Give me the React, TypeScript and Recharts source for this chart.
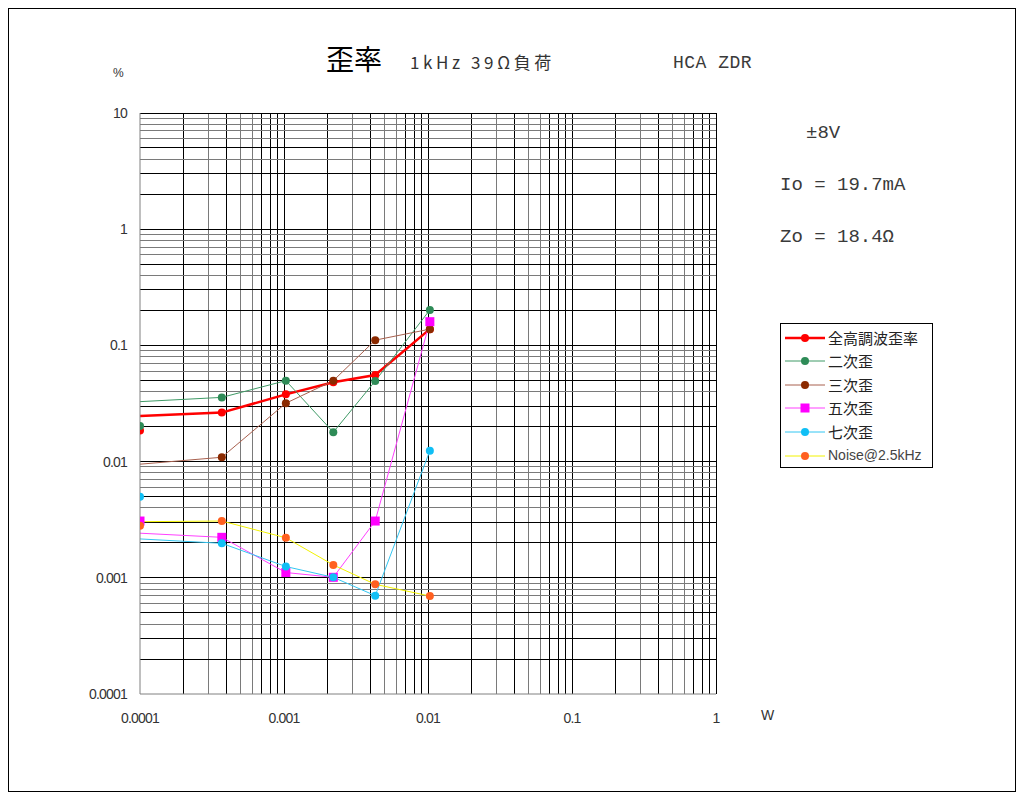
import React from "react";
import { ComposedChart, Line, Scatter, XAxis, YAxis, ReferenceLine } from "recharts";

// ---- data ----
const powerW = [0.0001, 0.00037, 0.00103, 0.0022, 0.0043, 0.0103];
const xTickValues = [0.0001, 0.001, 0.01, 0.1, 1];
const xTickLabels = ["0.0001", "0.001", "0.01", "0.1", "1"];
const yTickValues = [0.0001, 0.001, 0.01, 0.1, 1, 10];
const yTickLabels = ["0.0001", "0.001", "0.01", "0.1", "1", "10"];

const seriesNames = ["全高調波歪率", "二次歪", "三次歪", "五次歪", "七次歪", "Noise@2.5kHz"];
const thdLine = [0.0247, 0.0264, 0.0379, 0.0481, 0.0556, 0.138];
const h2Line = [0.0328, 0.0357, 0.0497, 0.0179, 0.0494, 0.202];
const h3Line = [0.0095, 0.0109, 0.0318, 0.0497, 0.111, 0.138];
const h5Line = [0.00242, 0.00223, 0.00111, 0.00101, 0.00308, 0.16];
const h7Line = [0.00216, 0.00198, 0.00125, 0.00101, 0.000702, 0.0124];
const noiseLine = [0.00304, 0.00308, 0.00221, 0.00129, 0.000879, 0.000697];
// isolated markers at 0.0001 W
const isoValues = [0.0185, 0.0202, null, 0.00308, 0.00499, 0.00281];

const lineColors = ["#ff0000", "#3f9a66", "#a8604e", "#ff40ff", "#33c6f2", "#f2f200"];
const markerColors = ["#ff0000", "#2e8b57", "#8b2a00", "#ff00ff", "#10bff5", "#ff6020"];
const lineWidths = [2.5, 1, 1, 1, 1, 1];
const markerShapes = ["circle", "circle", "circle", "square", "circle", "circle"];

const allLines = [thdLine, h2Line, h3Line, h5Line, h7Line, noiseLine];

const toData = (vals: number[]) => vals.map((v, i) => ({ x: powerW[i], y: v }));

const GRAY = "#7a7a7a";
const xDarkMinor = [2, 4, 7, 8, 9];
const yDarkMinor = [2, 3, 5];

const xGrid: { v: number; c: string }[] = [];
for (let d = 0; d < xTickValues.length - 1; d++) {
  for (let k = 1; k <= 9; k++) {
    const v = xTickValues[d] * k;
    if (d === 0 && k === 1) continue;
    xGrid.push({ v, c: k === 1 || xDarkMinor.includes(k) ? "#000" : GRAY });
  }
}
xGrid.push({ v: 1, c: "#000" });
const yGrid: { v: number; c: string }[] = [];
for (let d = 0; d < yTickValues.length - 1; d++) {
  for (let k = 1; k <= 9; k++) {
    const v = yTickValues[d] * k;
    if (d === 0 && k === 1) continue;
    yGrid.push({ v, c: k === 1 || yDarkMinor.includes(k) ? "#000" : GRAY });
  }
}
yGrid.push({ v: 10, c: "#000" });

function Marker({ cx, cy, shape, color }: any) {
  if (cx == null || cy == null) return null;
  if (shape === "square") {
    return <rect x={cx - 4.5} y={cy - 4.5} width={9} height={9} fill={color} />;
  }
  return <circle cx={cx} cy={cy} r={4} fill={color} />;
}

const makeDot = (si: number) => (props: any) => {
  const { cx, cy, index } = props;
  if (index === 0) return <g key={`d${si}-${index}`} />;
  return (
    <g key={`d${si}-${index}`}>
      <Marker cx={cx} cy={cy} shape={markerShapes[si]} color={markerColors[si]} />
    </g>
  );
};

function Txt({ x, y, children, style }: any) {
  return (
    <div
      style={{
        position: "absolute",
        left: x,
        top: y,
        transform: "translateY(-50%)",
        whiteSpace: "nowrap",
        lineHeight: 1,
        ...style,
      }}
    >
      {children}
    </div>
  );
}

function LegendBox() {
  const rowY = [14, 37, 61, 84, 108, 132];
  return (
    <div
      style={{
        position: "absolute",
        left: 772,
        top: 315,
        width: 153,
        height: 145,
        border: "1px solid #000",
        boxSizing: "border-box",
        background: "#fff",
      }}
    >
      {seriesNames.map((n, i) => (
        <React.Fragment key={n}>
          <svg
            style={{ position: "absolute", left: 4, top: rowY[i] - 8 }}
            width={40}
            height={16}
          >
            <line x1={0} y1={8} x2={40} y2={8} stroke={lineColors[i]} strokeWidth={lineWidths[i]} />
            <Marker cx={20} cy={8} shape={markerShapes[i]} color={markerColors[i]} />
          </svg>
          <Txt
            x={47}
            y={rowY[i] - 1}
            style={{
              fontFamily: i === 5 ? "'Liberation Sans', sans-serif" : "'Noto Sans CJK JP', sans-serif",
              fontSize: i === 5 ? 14 : 15,
              color: i === 5 ? "#444" : "#222",
            }}
          >
            {n}
          </Txt>
        </React.Fragment>
      ))}
    </div>
  );
}

export default function App() {
  const tickStyle = { fontSize: 14, fill: "#333", fontFamily: "'Liberation Sans', sans-serif", letterSpacing: -0.8 };
  const monoStyle = { fontFamily: "'Liberation Mono', monospace", fontSize: 19, color: "#3a3a3a", fontWeight: 300 };
  return (
    <div style={{ position: "relative", width: 1008, height: 784, background: "#fff" }}>
      <ComposedChart width={1008} height={784} margin={{ top: 105, right: 300, bottom: 58, left: 72 }}>
        <XAxis
          type="number"
          dataKey="x"
          scale="log"
          domain={[0.0001, 1]}
          allowDataOverflow
          ticks={xTickValues}
          interval={0}
          tickFormatter={(v: number) => xTickLabels[xTickValues.indexOf(v)] ?? String(v)}
          axisLine={{ stroke: "#808080" }}
          tickLine={false}
          tickSize={6}
          tickMargin={13}
          height={40}
          tick={tickStyle}
        />
        <YAxis
          type="number"
          dataKey="y"
          scale="log"
          domain={[0.0001, 10]}
          allowDataOverflow
          ticks={yTickValues}
          interval={0}
          tickFormatter={(v: number) => yTickLabels[yTickValues.indexOf(v)] ?? String(v)}
          axisLine={{ stroke: "#808080" }}
          tickLine={false}
          tickSize={6}
          tickMargin={7}
          width={60}
          tick={tickStyle}
        />
        {xGrid.map((g) => (
          <ReferenceLine key={`gx${g.v}`} x={g.v} stroke={g.c} strokeWidth={1} shapeRendering="crispEdges" ifOverflow="visible" />
        ))}
        {yGrid.map((g) => (
          <ReferenceLine key={`gy${g.v}`} y={g.v} stroke={g.c} strokeWidth={1} shapeRendering="crispEdges" ifOverflow="visible" />
        ))}
        {allLines.map((vals, si) => (
          <Line
            key={`l${si}`}
            data={toData(vals)}
            dataKey="y"
            type="linear"
            stroke={lineColors[si]}
            strokeWidth={lineWidths[si]}
            dot={makeDot(si)}
            activeDot={false}
            isAnimationActive={false}
            legendType="none"
          />
        ))}
        {isoValues.map((v, si) =>
          v == null ? null : (
            <Scatter
              key={`s${si}`}
              data={[{ x: powerW[0], y: v }]}
              dataKey="y"
              isAnimationActive={false}
              shape={(p: any) => <Marker cx={p.cx} cy={p.cy} shape={markerShapes[si]} color={markerColors[si]} />}
            />
          )
        )}
      </ComposedChart>

      <div style={{ position: "absolute", left: 0, top: 0, width: 1008, height: 784, border: "1px solid #000", boxSizing: "border-box", pointerEvents: "none" }} />

      <Txt x={105} y={65} style={{ fontFamily: "'Liberation Sans', sans-serif", fontSize: 12, color: "#333" }}>%</Txt>
      <Txt x={318} y={50} style={{ fontFamily: "'Noto Sans CJK JP', sans-serif", fontSize: 28, color: "#000" }}>歪率</Txt>
      <Txt x={402} y={53} style={{ fontFamily: "'Noto Sans CJK JP', sans-serif", fontSize: 17, color: "#333", letterSpacing: 3.6 }}>1kHz 39Ω負荷</Txt>
      <Txt x={665} y={55} style={{ fontFamily: "'Liberation Mono', monospace", fontSize: 18, color: "#3a3a3a", letterSpacing: 0.5 }}>HCA ZDR</Txt>
      <Txt x={798} y={125} style={monoStyle}>±8V</Txt>
      <Txt x={772} y={177} style={monoStyle}>Io = 19.7mA</Txt>
      <Txt x={772} y={229} style={monoStyle}>Zo = 18.4Ω</Txt>
      <Txt x={753} y={707} style={{ fontFamily: "'Liberation Sans', sans-serif", fontSize: 14, color: "#333" }}>W</Txt>

      <LegendBox />
    </div>
  );
}
